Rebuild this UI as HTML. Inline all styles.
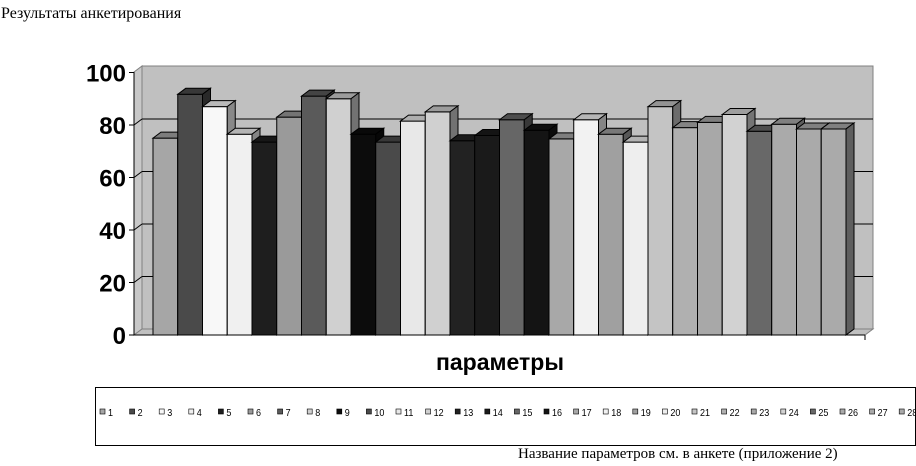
<!DOCTYPE html>
<html><head><meta charset="utf-8"><style>
body{margin:0;width:916px;height:466px;background:#fff;overflow:hidden;position:relative;font-family:"Liberation Sans",sans-serif}
.t{position:absolute;font-family:"Liberation Serif",serif;font-size:16px}
</style></head><body>
<div class="t" style="left:1px;top:5px">Результаты анкетирования</div>
<div class="t" style="left:518px;top:446px;font-size:15px">Название параметров см. в анкете (приложение 2)</div>
<svg id="s" width="916" height="466" style="position:absolute;left:0;top:0"></svg>
<script>
const s=document.getElementById('s');let h='';
const y0=335,k=2.625,dx=8,dy=-6;
h+=`<polygon points="134,${y0} 142,${y0+dy} 142,66 134,72" fill="#c8c8c8" stroke="#808080"/>`;
h+=`<rect x="142" y="66" width="731" height="263" fill="#c0c0c0" stroke="#808080"/>`;
h+=`<polygon points="134,${y0} 142,${y0+dy} 873,${y0+dy} 865,${y0}" fill="#c0c0c0" stroke="#808080"/>`;
for(let i=1;i<=4;i++){const y=335-i*52.5;
 h+=`<line x1="142" y1="${y-6}" x2="873" y2="${y-6}" stroke="#000"/><line x1="134" y1="${y}" x2="142" y2="${y-6}" stroke="#000"/>`;}
h+=`<line x1="134" y1="72" x2="134" y2="335" stroke="#000"/><line x1="134" y1="${y0}" x2="865" y2="${y0}" stroke="#000"/><line x1="865" y1="335" x2="865" y2="340" stroke="#000"/>`;
[0,20,40,60,80,100].forEach((v,i)=>{const y=335-i*52.5;
 h+=`<line x1="129" y1="${y}" x2="134" y2="${y}" stroke="#000"/><text x="126" y="${y+9}" text-anchor="end" font-family="Liberation Sans" font-weight="bold" font-size="24">${v}</text>`;});
const vals=[75,91.7,87,76.5,73.5,83,91,90,76.5,73.5,81.5,85,74,76,82,78,74.7,82,76.5,73.5,87,79,81,84,77.6,80.3,78.5,78.5];
const col=[0xa6,0x4a,0xf8,0xf0,0x1e,0x9a,0x5a,0xd0,0x0c,0x4a,0xe8,0xd0,0x22,0x1a,0x66,0x14,0xa8,0xf2,0xa0,0xee,0xc4,0xb0,0xa8,0xd2,0x68,0xaa,0xaa,0xaa];
const g=c=>{c=Math.max(0,Math.min(255,Math.round(c)));return `rgb(${c},${c},${c})`};
const w=24.75;
vals.forEach((v,i)=>{const x=153+i*w,t=y0-v*k,c=col[i];
 h+=`<rect x="${x}" y="${t}" width="${w}" height="${y0-t}" fill="${g(c)}" stroke="#000"/>`;
 h+=`<polygon points="${x},${t} ${x+dx},${t+dy} ${x+w+dx},${t+dy} ${x+w},${t}" fill="${g(c*0.75)}" stroke="#000"/>`;
 h+=`<polygon points="${x+w},${t} ${x+w+dx},${t+dy} ${x+w+dx},${y0+dy} ${x+w},${y0}" fill="${g(c*0.55)}" stroke="#000"/>`;
});
h+=`<text x="500" y="370" text-anchor="middle" font-family="Liberation Sans" font-weight="bold" font-size="23">параметры</text>`;
h+=`<rect x="95.5" y="387.5" width="820" height="58" fill="none" stroke="#000"/>`;
vals.forEach((v,i)=>{const x=100+i*29.6;
 h+=`<rect x="${x}" y="409" width="5" height="5" fill="${g(col[i])}" stroke="#000" stroke-width="0.6"/><text x="${x+8}" y="416" font-family="Liberation Sans" font-size="10" transform="translate(${(x+8)*0.1},0) scale(0.9,1)">${i+1}</text>`;});
s.innerHTML=h;
</script>
</body></html>
